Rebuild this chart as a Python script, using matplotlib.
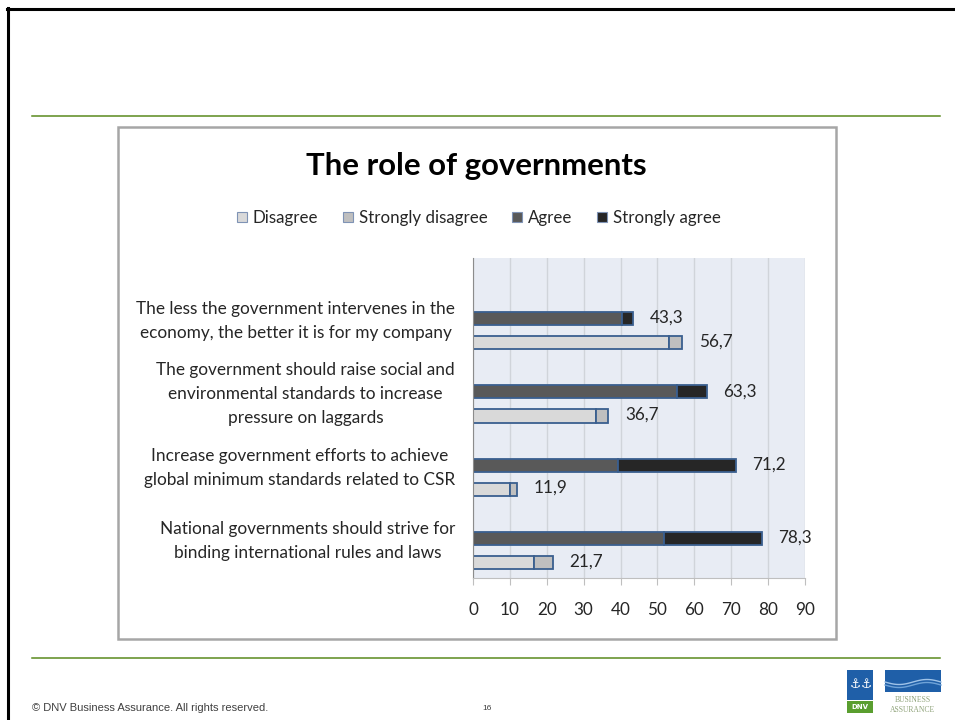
import matplotlib
matplotlib.use("Agg")
import matplotlib.pyplot as plt
from matplotlib.patches import Rectangle, Patch
from matplotlib.lines import Line2D
import numpy as np

plt.rcParams['font.family'] = ['Lato', 'DejaVu Sans']

# Survey statements (top to bottom)
categories = [
    "The less the government intervenes in the\neconomy, the better it is for my company",
    "The government should raise social and\nenvironmental standards to increase\npressure on laggards",
    "Increase government efforts to achieve\nglobal minimum standards related to CSR",
    "National governments should strive for\nbinding international rules and laws",
]
agree = [40.3, 55.2, 39.2, 51.8]
strongly_agree = [3.0, 8.1, 32.0, 26.5]
disagree = [53.2, 33.3, 10.0, 16.5]
strongly_disagree = [3.5, 3.4, 1.9, 5.2]
agree_total = [43.3, 63.3, 71.2, 78.3]
disagree_total = [56.7, 36.7, 11.9, 21.7]
x_ticks = [0, 10, 20, 30, 40, 50, 60, 70, 80, 90]

W, H = 955, 720
fig = plt.figure(figsize=(W / 100, H / 100), dpi=100)
fig.patch.set_facecolor("white")


def fx(x):
    return x / W


def fy(y):
    return 1 - y / H


# Slide frame and rules
fig.add_artist(Line2D([fx(7), fx(955)], [fy(9), fy(9)], color="black", lw=2.2))
fig.add_artist(Line2D([fx(8), fx(8)], [fy(8), fy(720)], color="black", lw=2.2))
fig.add_artist(Line2D([fx(32), fx(940)], [fy(115.5), fy(115.5)], color="#5A8A1E", lw=1.1))
fig.add_artist(Line2D([fx(32), fx(940)], [fy(658), fy(658)], color="#5A8A1E", lw=1.1))

# Chart frame
fig.add_artist(Rectangle((fx(118), fy(639)), fx(836 - 118), (639 - 127) / H,
                         facecolor="white", edgecolor="#A6A6A6", lw=1.8, zorder=0))

fig.text(fx(476), fy(166), "The role of governments", ha="center", va="center",
         fontsize=22.4, fontweight="bold", color="black")

# Plot area
ax = fig.add_axes([fx(473), fy(578), fx(805 - 473), (578 - 258) / H])
ax.set_facecolor("#E8ECF4")
ax.set_xlim(0, 90)
ax.set_ylim(3.534, -0.822)
ax.set_xticks(x_ticks)
ax.set_xticklabels([str(t) for t in x_ticks], fontsize=12.3, color="#262626")
ax.set_yticks([])
ax.grid(axis="x", color="#D0D4DA", lw=1.0)
ax.set_axisbelow(True)
for s in ["top", "right"]:
    ax.spines[s].set_visible(False)
ax.spines["left"].set_color("#8C8C8C")
ax.spines["bottom"].set_color("#BFBFBF")
ax.tick_params(axis="x", length=5, color="#BFBFBF", pad=12)

edge = "#3A5F8F"
bh = 0.178
ya = np.arange(len(categories))
yd = ya + 0.329

c_dis, c_sdis, c_agr, c_sagr = "#D9D9D9", "#BFBFBF", "#595959", "#262626"

ax.barh(ya, agree, height=bh, color=c_agr, edgecolor=edge, lw=1.3)
ax.barh(ya, strongly_agree, left=agree, height=bh, color=c_sagr, edgecolor=edge, lw=1.3)
ax.barh(yd, disagree, height=bh, color=c_dis, edgecolor=edge, lw=1.3)
ax.barh(yd, strongly_disagree, left=disagree, height=bh, color=c_sdis, edgecolor=edge, lw=1.3)

for y, v in zip(ya, agree_total):
    ax.annotate(f"{v:.1f}".replace(".", ","), (v, y), xytext=(12, 0.5),
                textcoords="offset points", ha="left", va="center",
                fontsize=12.3, color="#262626", annotation_clip=False)
for y, v in zip(yd, disagree_total):
    ax.annotate(f"{v:.1f}".replace(".", ","), (v, y), xytext=(12, 1.0),
                textcoords="offset points", ha="left", va="center",
                fontsize=12.3, color="#262626", annotation_clip=False)

for y, lab in zip(ya, categories):
    ax.annotate(lab, (0, y + 0.035), xytext=(-13, 0), textcoords="offset points",
                ha="right", va="center", multialignment="center",
                fontsize=12.4, color="#262626", linespacing=1.62,
                annotation_clip=False)

# Legend
handles = [
    Patch(facecolor=c_dis, edgecolor="#7F93B5", lw=0.8, label="Disagree"),
    Patch(facecolor=c_sdis, edgecolor="#7F93B5", lw=0.8, label="Strongly disagree"),
    Patch(facecolor=c_agr, edgecolor="#7F93B5", lw=0.8, label="Agree"),
    Patch(facecolor=c_sagr, edgecolor="#7F93B5", lw=0.8, label="Strongly agree"),
]
fig.legend(handles=handles, loc="center", bbox_to_anchor=(fx(479), fy(218)),
           ncol=4, frameon=False, fontsize=12.2, handlelength=0.6, handleheight=0.6,
           handletextpad=0.35, columnspacing=1.45, labelcolor="#262626")

# Footer
fig.text(fx(32), fy(708), "\u00a9 DNV Business Assurance. All rights reserved.",
         ha="left", va="center", fontsize=8, color="#404040", family="Liberation Sans")
fig.text(fx(487), fy(708), "16", ha="center", va="center", fontsize=6,
         color="#404040", family="Liberation Sans")

# Logo
fig.add_artist(Rectangle((fx(847), fy(700)), fx(26), 30 / H, facecolor="#1F5FA8", lw=0))
fig.add_artist(Rectangle((fx(847), fy(713)), fx(26), 12 / H, facecolor="#5A9E2F", lw=0))
fig.text(fx(860), fy(707), "DNV", ha="center", va="center", fontsize=5,
         fontweight="bold", color="white", family="DejaVu Sans")
fig.text(fx(855), fy(685), "\u2693", ha="center", va="center", fontsize=9,
         color="white", family="DejaVu Sans")
fig.text(fx(866), fy(685), "\u2693", ha="center", va="center", fontsize=9,
         color="white", family="DejaVu Sans")
fig.add_artist(Rectangle((fx(885), fy(692)), fx(56), 22 / H, facecolor="#1F5FA8", lw=0))
wx = np.linspace(885, 941, 60)
for off, col in [(0, "#9FC3E8"), (3, "#6FA3D8")]:
    wy = 682 + off + 2.5 * np.sin((wx - 885) / 56 * 2 * np.pi)
    fig.add_artist(Line2D(fx(wx), fy(wy), color=col, lw=1.0))
fig.text(fx(913), fy(700), "BUSINESS", ha="center", va="center", fontsize=5.5,
         color="#8FA37A", family="Liberation Serif")
fig.text(fx(913), fy(710), "ASSURANCE", ha="center", va="center", fontsize=5.5,
         color="#8FA37A", family="Liberation Serif")

fig.savefig("out.png", dpi=100)
